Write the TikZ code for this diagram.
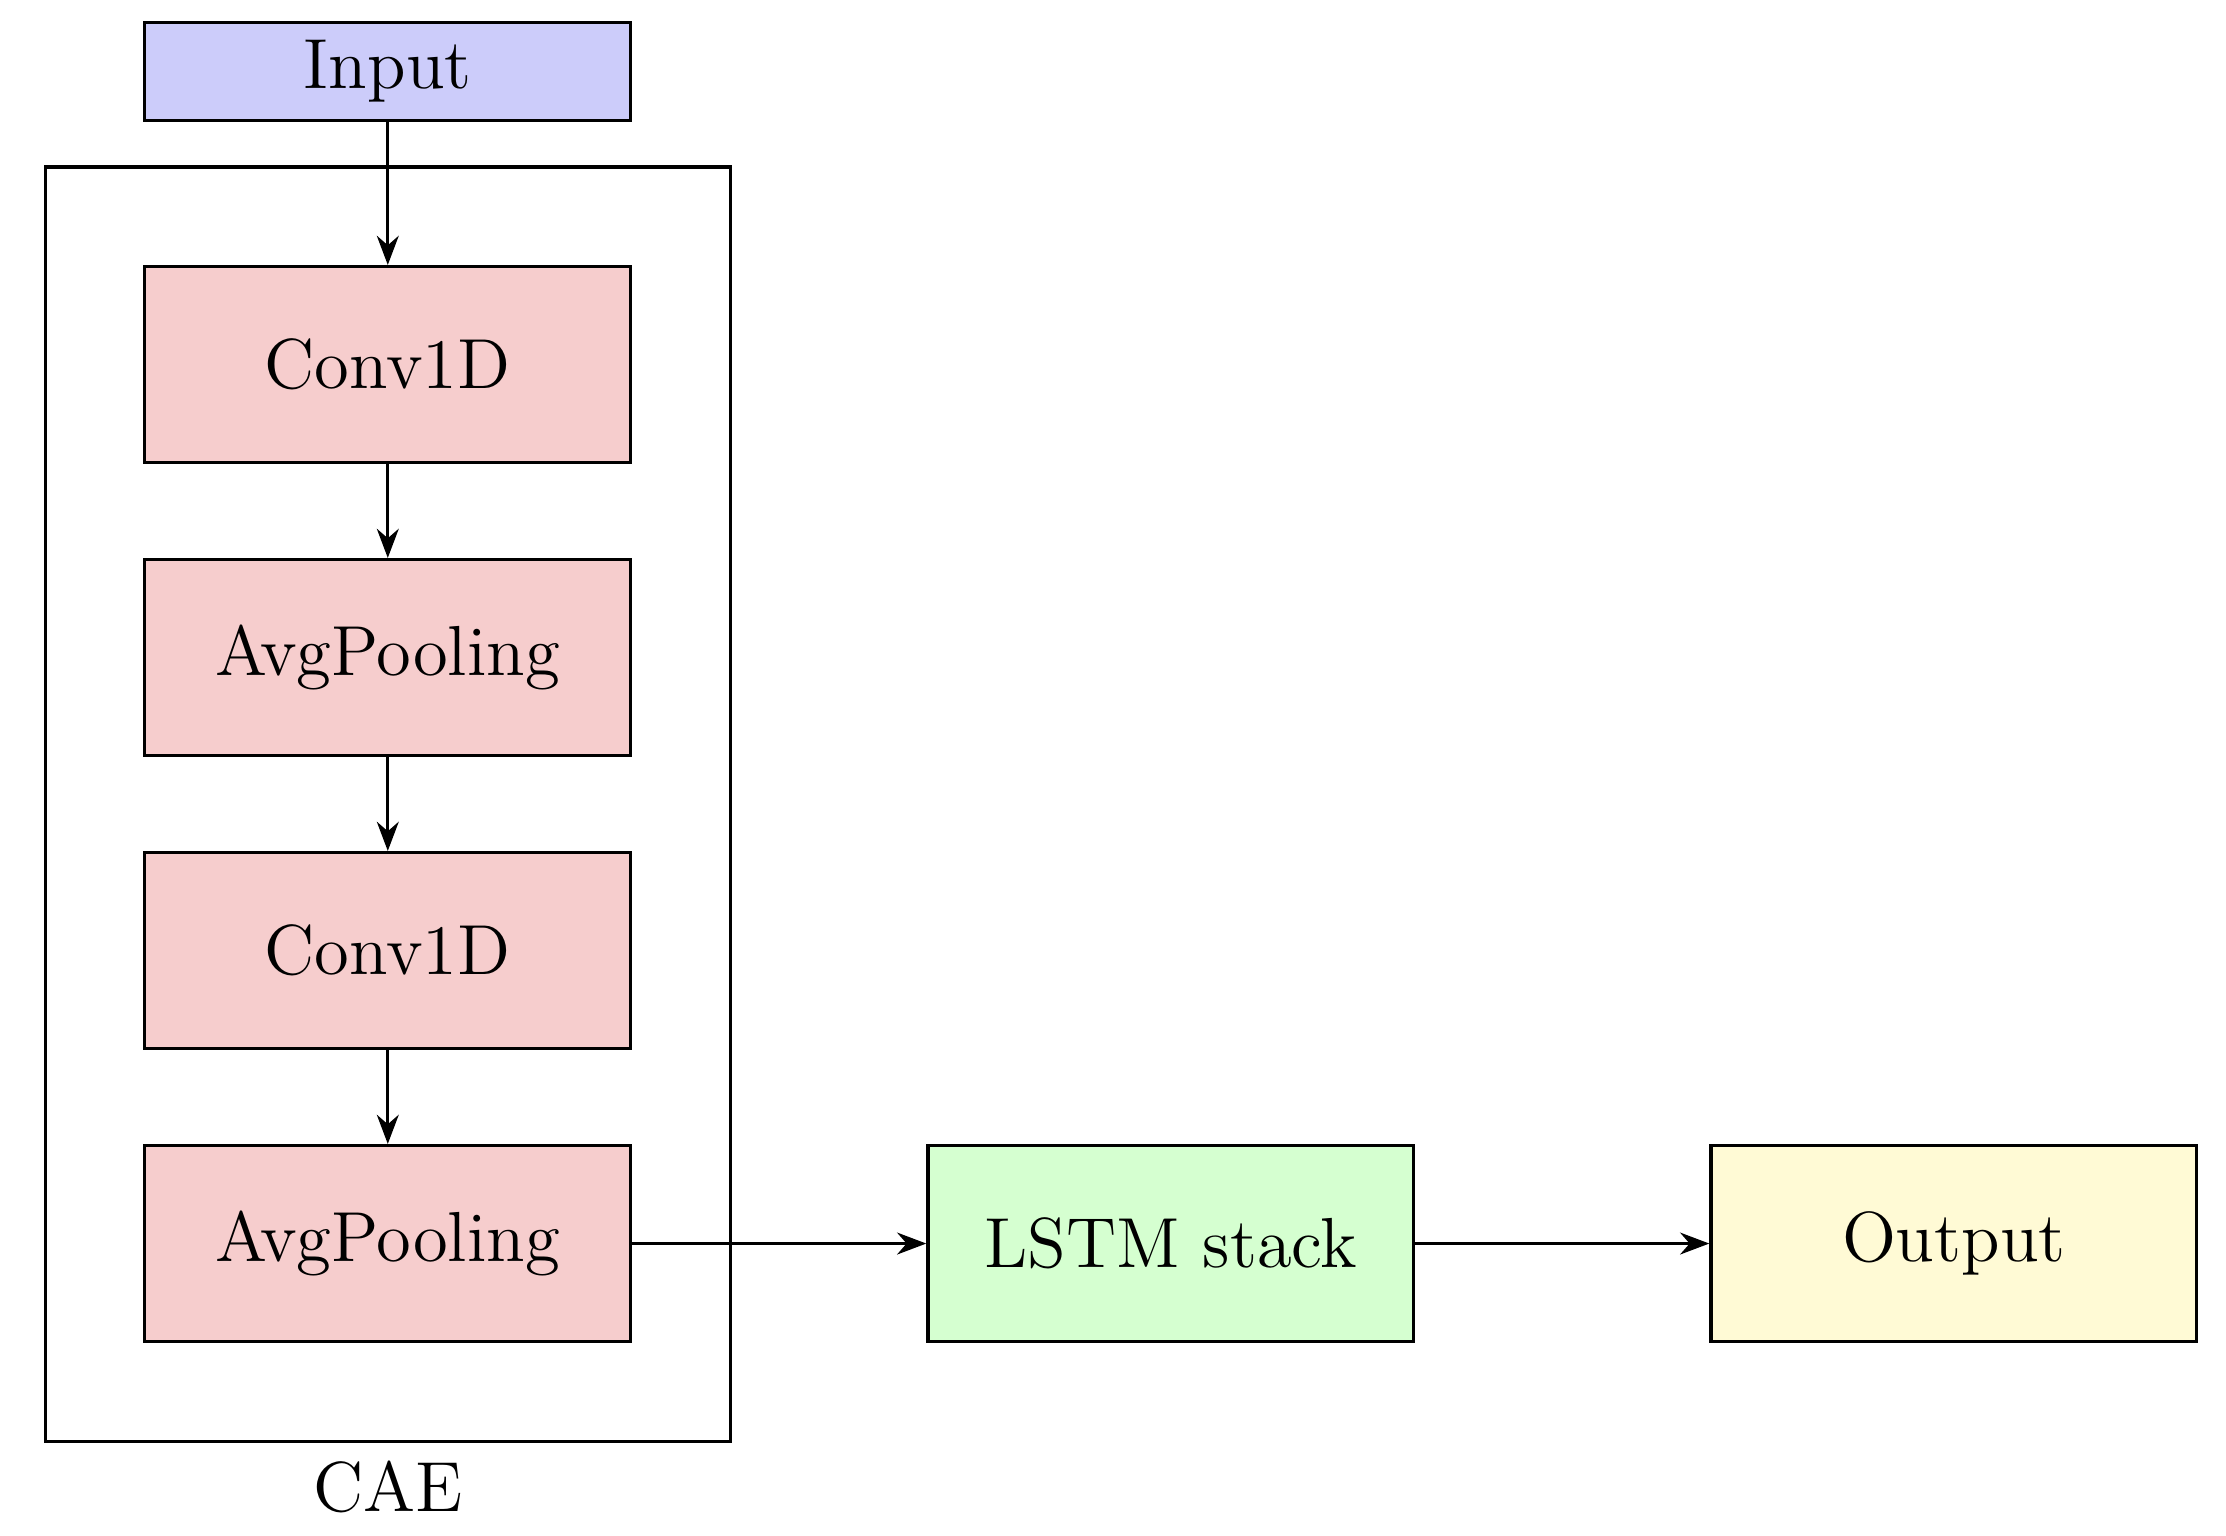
\documentclass[tikz,border=0pt]{standalone}
\usepackage{tikz}
\usetikzlibrary{
arrows.meta,
fit,
positioning
}
\definecolor{inblue}{RGB}{204,204,250}
\definecolor{layerred}{RGB}{246,205,205}
\definecolor{lstmgreen}{RGB}{213,255,208}
\definecolor{outyellow}{RGB}{255,250,213}
\tikzset{>=Stealth}

\begin{document}
\begin{tikzpicture}[node distance=0.67cm,auto,>=Stealth,line width=0.65pt,
		layer/.style={draw,minimum width=3.47cm,minimum height=1.4cm}]
		\def\ts{\Large}
		\useasboundingbox (-2.77,0.511) rectangle (13.13,-10.46);
		% CAE layers
		\node[draw,fill=inblue,minimum width=3.47cm,minimum height=0.7cm] at (0,0) (input) {\ts Input};
		\node[layer,fill=layerred,below=1.02cm of input] (conv1) {\ts Conv1D};
		\node[layer,fill=layerred,below=of conv1] (pool1) {\ts AvgPooling};
		\node[layer,fill=layerred,below=of pool1] (conv2) {\ts Conv1D};
		\node[layer,fill=layerred,below=of conv2] (pool2) {\ts AvgPooling};
		\node[draw,fit=(conv1)(pool2),inner sep=0.7cm] (cae) {};
		\node[below=0cm of cae] (caelabel) {\ts CAE};
		
		% rest of the model
		\node[layer,fill=lstmgreen,right=2.1cm of pool2] (lstm) {\ts LSTM stack};
		\node[layer,fill=outyellow,right=2.1cm of lstm] (output) {\ts Output};
		
		\draw[->] (input) -- (conv1);
		\draw[->] (conv1) -- (pool1);
		\draw[->] (pool1) -- (conv2);
		\draw[->] (conv2) -- (pool2);
		\draw[->] (pool2) -- (lstm);
		\draw[->] (lstm) -- (output);
		\end{tikzpicture}
\end{document}
